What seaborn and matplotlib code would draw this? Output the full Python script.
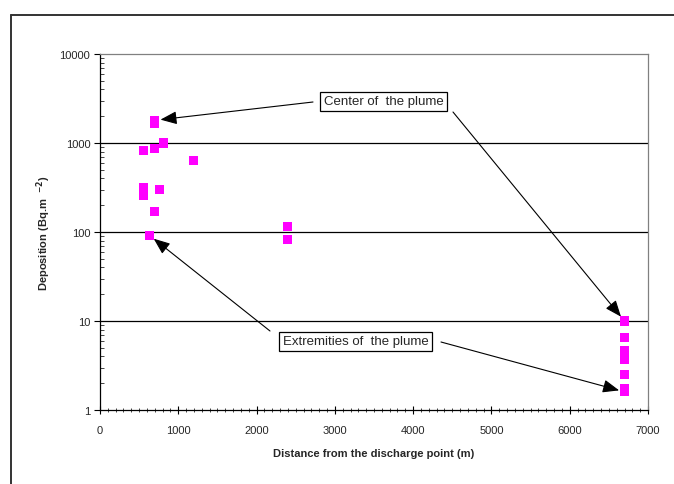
import matplotlib
matplotlib.use("Agg")
import matplotlib.pyplot as plt
import seaborn as sns
import pandas as pd
import numpy as np
from matplotlib.lines import Line2D
from matplotlib.ticker import FixedLocator, NullFormatter, LogLocator

distance = [702, 702, 553, 702, 817, 1200, 553, 553, 758, 702, 630, 2400, 2400,
            6700, 6700, 6700, 6700, 6700, 6700, 6700]
deposition = [1800, 1650, 830, 870, 1000, 640, 318, 258, 299, 168, 92, 114, 83,
              10, 6.6, 4.7, 3.7, 2.5, 1.75, 1.6]
yticks = [1, 10, 100, 1000, 10000]
xticks = [0, 1000, 2000, 3000, 4000, 5000, 6000, 7000]

df = pd.DataFrame({"distance": distance, "deposition": deposition})

sns.set_style("white")
plt.rcParams["font.family"] = ["Liberation Sans", "DejaVu Sans"]

fig = plt.figure(figsize=(6.74, 4.85), dpi=100)
ax = fig.add_axes([100/674, 1-411/485, 548/674, 356/485])

sns.scatterplot(data=df, x="distance", y="deposition", marker="s", s=42,
                color="#FF00FF", edgecolor="none", ax=ax, zorder=3)

ax.set_yscale("log")
ax.set_ylim(1, 10000)
ax.set_xlim(0, 7000)
ax.set_yticks(yticks)
ax.set_yticklabels([str(t) for t in yticks])
ax.set_xticks(xticks)
ax.set_xticklabels([str(t) for t in xticks])
ax.xaxis.set_minor_locator(FixedLocator(np.arange(0, 7001, 100)))
ax.yaxis.set_minor_locator(LogLocator(base=10, subs=np.arange(2, 10)))
ax.yaxis.set_minor_formatter(NullFormatter())
ax.tick_params(axis="both", which="major", labelsize=8, color="black",
               length=4, width=0.8, pad=3)
ax.tick_params(axis="x", which="major", direction="inout", length=6, pad=8)
ax.tick_params(axis="x", which="minor", direction="inout", length=3, width=0.6)
ax.tick_params(axis="y", which="major", direction="out", length=4)
ax.tick_params(axis="y", which="minor", direction="in", length=3, width=0.6)
ax.tick_params(left=True, bottom=True, which="both")

for v in [10, 100, 1000]:
    ax.axhline(v, color="black", lw=0.9, zorder=1)

for s in ["top", "right"]:
    ax.spines[s].set_color("#808080")
    ax.spines[s].set_linewidth(0.9)
for s in ["left", "bottom"]:
    ax.spines[s].set_color("black")
    ax.spines[s].set_linewidth(0.9)

ax.set_xlabel("Distance from the discharge point (m)", fontsize=8,
              fontweight="bold", labelpad=9)
ax.set_ylabel(r"Deposition (Bq.m  $^{\mathbf{-2}}$)", fontsize=8,
              fontweight="bold", labelpad=5)

# outer chart-area frame
fig.add_artist(Line2D([11/674, 1.0], [1-16/485, 1-16/485], color="#333333",
                      lw=1.4, transform=fig.transFigure))
fig.add_artist(Line2D([11/674, 11/674], [1-16/485, 0], color="#333333",
                      lw=1.4, transform=fig.transFigure))

box = dict(boxstyle="square,pad=0.3", fc="white", ec="black", lw=0.9)
fig.text(383.5/674, 1-102.5/485, "Center of  the plume", ha="center", va="center",
         fontsize=9.5, bbox=box, zorder=5)
fig.text(355.5/674, 1-342.5/485, "Extremities of  the plume", ha="center",
         va="center", fontsize=9.5, bbox=box, zorder=5)

arrow = dict(arrowstyle="-|>,head_length=1.0,head_width=0.4", color="black",
             lw=0.8, shrinkA=0, shrinkB=4)

def arrow_to(i, start):
    ax.annotate("", xy=(distance[i], deposition[i]), xycoords="data",
                xytext=(start[0], 485-start[1]), textcoords="figure pixels",
                arrowprops=arrow, zorder=4)

arrow_to(0, (313, 103))
arrow_to(13, (453, 113))
arrow_to(10, (270, 332))
arrow_to(19, (441, 343))

fig.savefig("out.png", dpi=100)
